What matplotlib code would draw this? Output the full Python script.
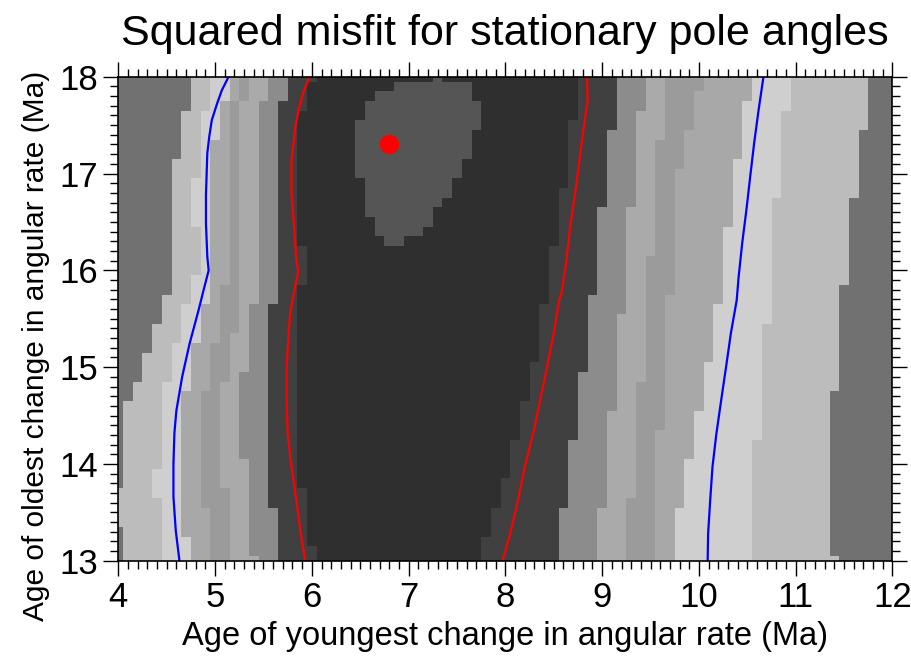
import numpy as np
import matplotlib
matplotlib.use("Agg")
import matplotlib.pyplot as plt
from matplotlib.colors import ListedColormap, BoundaryNorm
from matplotlib.ticker import MultipleLocator

plt.rcParams['font.family'] = ['Liberation Sans', 'DejaVu Sans']

# grid nodes of the misfit map (Ma)
x_nodes = np.round(np.arange(4.0, 12.01, 0.1), 2)
y_nodes = np.round(np.arange(13.0, 18.01, 0.1), 2)

# band colours, from lowest misfit (patch) outward
band_colors = ["#555555", "#2f2f2f", "#404040", "#8c8c8c", "#aaaaaa",
               "#9b9b9b", "#a8a8a8", "#cfcfcf", "#bcbcbc", "#717171"]

# band edges: (row y from which it applies, x edge)
# left side, outermost first
E_bc = [(13.0, 4.05), (13.35, 3.95), (13.75, 4.05), (14.65, 4.15), (14.85, 4.25),
        (15.15, 4.35), (15.45, 4.45), (15.75, 4.55), (17.15, 4.65), (17.65, 4.75)]
E_cf = [(13.0, 4.45), (13.65, 4.35), (13.95, 4.45), (14.85, 4.55), (15.25, 4.65),
        (15.65, 4.75), (15.95, 4.85), (16.45, 4.75), (16.95, 4.85), (17.65, 4.95)]
E_a8 = [(13.0, 4.75), (13.25, 4.65), (14.75, 4.75), (15.25, 4.85), (15.65, 4.95),
        (17.35, 5.05), (17.75, 5.15)]
E_9b = [(13.0, 4.95), (13.55, 4.85), (14.75, 4.95), (15.25, 5.05), (15.85, 5.15),
        (17.75, 5.25)]
E_aa = [(13.0, 5.15), (13.75, 5.05), (14.85, 5.15), (15.35, 5.25), (17.75, 5.35)]
E_8c = [(13.0, 5.45), (13.05, 5.35), (14.05, 5.25), (14.95, 5.35), (15.65, 5.45),
        (17.75, 5.55)]
E_40 = [(13.0, 5.65), (13.55, 5.55), (15.65, 5.65), (17.75, 5.75)]
E_2f = [(13.0, 6.05), (13.15, 5.95), (13.75, 5.85), (15.85, 5.95), (16.25, 5.85),
        (17.65, 5.95), (17.95, 6.05)]
# right side, innermost first
R_40 = [(13.0, 7.75), (13.25, 7.85), (13.55, 7.95), (13.85, 8.05), (14.25, 8.15),
        (14.65, 8.25), (15.05, 8.35), (15.65, 8.45), (16.25, 8.55), (16.85, 8.65),
        (17.55, 8.75)]
R_8c = [(13.0, 8.55), (13.55, 8.65), (14.25, 8.75), (14.95, 8.85), (15.75, 8.95),
        (16.65, 9.05), (17.45, 9.15)]
R_aa = [(13.0, 8.95), (13.55, 9.05), (14.55, 9.15), (15.55, 9.25), (16.65, 9.35),
        (17.65, 9.45)]
R_9b = [(13.0, 9.25), (13.65, 9.35), (14.85, 9.45), (16.15, 9.55), (17.35, 9.65)]
R_a8 = [(13.0, 9.55), (14.35, 9.65), (15.75, 9.75), (17.05, 9.85), (17.45, 9.95),
        (17.85, 10.05)]
R_cf = [(13.0, 9.75), (13.55, 9.85), (14.05, 9.95), (14.55, 10.05), (15.05, 10.15),
        (15.65, 10.25), (16.45, 10.35), (17.15, 10.45), (17.75, 10.55)]
R_bc = [(13.0, 10.55), (14.25, 10.65), (15.45, 10.75), (16.75, 10.85), (17.65, 10.95)]
R_71 = [(13.0, 11.45), (13.05, 11.35), (14.75, 11.45), (15.85, 11.55), (16.75, 11.65),
        (17.45, 11.75)]

# lowest-misfit patch: (row y, x left edge, x right edge)
patch_rows = [(18.0, 7.25, 7.35), (17.9, 6.85, 7.65), (17.8, 6.65, 7.65),
              (17.7, 6.55, 7.75), (17.6, 6.55, 7.75), (17.5, 6.45, 7.75),
              (17.4, 6.45, 7.65), (17.3, 6.45, 7.65), (17.2, 6.45, 7.65),
              (17.1, 6.45, 7.55), (17.0, 6.45, 7.55), (16.9, 6.55, 7.45),
              (16.8, 6.55, 7.45), (16.7, 6.55, 7.35), (16.6, 6.55, 7.25),
              (16.5, 6.65, 7.25), (16.4, 6.65, 7.15), (16.3, 6.75, 6.95)]

# contours
red_left_x = [5.977, 5.91, 5.864, 5.83, 5.79, 5.79, 5.817, 5.84, 5.86, 5.80, 5.775,
              5.76, 5.74, 5.74, 5.75, 5.79, 5.84, 5.886, 5.93]
red_left_y = [18.0, 17.83, 17.66, 17.48, 17.14, 16.79, 16.45, 16.10, 15.99, 15.69, 15.55,
              15.35, 15.0, 14.66, 14.31, 13.97, 13.62, 13.28, 13.0]
red_right_x = [8.843, 8.85, 8.81, 8.766, 8.72, 8.67, 8.63, 8.58, 8.555, 8.50, 8.43,
               8.36, 8.286, 8.20, 8.13, 8.05, 7.97]
red_right_y = [18.0, 17.76, 17.48, 17.14, 16.79, 16.45, 16.10, 15.76, 15.69, 15.35, 15.0,
               14.66, 14.31, 13.97, 13.62, 13.28, 13.0]
blue_left_x = [5.14, 5.07, 5.02, 4.966, 4.94, 4.92, 4.914, 4.906, 4.906, 4.92, 4.934,
               4.88, 4.83, 4.736, 4.66, 4.60, 4.58, 4.57, 4.57, 4.594, 4.632]
blue_left_y = [18.0, 17.86, 17.72, 17.55, 17.38, 17.21, 17.03, 16.78, 16.48, 16.14, 16.0,
               15.79, 15.59, 15.24, 14.90, 14.55, 14.32, 14.0, 13.66, 13.31, 13.0]
blue_right_x = [10.667, 10.617, 10.57, 10.53, 10.49, 10.447, 10.41, 10.39, 10.33, 10.28,
                10.23, 10.18, 10.14, 10.116, 10.095, 10.09]
blue_right_y = [18.0, 17.66, 17.31, 16.97, 16.62, 16.28, 15.93, 15.69, 15.35, 15.0,
                14.66, 14.31, 13.97, 13.62, 13.28, 13.0]

best_x, best_y = 6.8, 17.3


def edge_at(steps, y):
    xe = steps[0][1]
    for ys, x in steps[1:]:
        if y > ys:
            xe = x
    return xe


left_edges = [E_bc, E_cf, E_a8, E_9b, E_aa, E_8c, E_40, E_2f]
right_edges = [R_40, R_8c, R_aa, R_9b, R_a8, R_cf, R_bc, R_71]
patch = {round(r[0], 1): (r[1], r[2]) for r in patch_rows}

level = np.zeros((len(y_nodes), len(x_nodes)))
for j, y in enumerate(y_nodes):
    le = [edge_at(e, y) for e in left_edges]
    re = [edge_at(e, y) for e in right_edges]
    for i, x in enumerate(x_nodes):
        lev = sum(x < e for e in le) + sum(x > e for e in re)
        p = patch.get(round(y, 1))
        if p and p[0] < x < p[1]:
            lev = -1
        level[j, i] = lev

cmap = ListedColormap(band_colors)
norm = BoundaryNorm(np.arange(-1.5, 9.5, 1), cmap.N)

fig = plt.figure(figsize=(9.12, 6.63), dpi=100)
ax = fig.add_axes([0.1297, 0.1542, 0.8489, 0.7301])
ax.pcolormesh(x_nodes, y_nodes, level, cmap=cmap, norm=norm, shading='nearest')
ax.plot(red_left_x, red_left_y, color='red', lw=1.6)
ax.plot(red_right_x, red_right_y, color='red', lw=1.6)
ax.plot(blue_left_x, blue_left_y, color='blue', lw=1.6)
ax.plot(blue_right_x, blue_right_y, color='blue', lw=1.6)
ax.plot(best_x, best_y, 'o', color='red', ms=14, mec='none')

ax.set_xlim(4, 12)
ax.set_ylim(13, 18)
ax.xaxis.set_major_locator(MultipleLocator(1))
ax.xaxis.set_minor_locator(MultipleLocator(0.1))
ax.yaxis.set_major_locator(MultipleLocator(1))
ax.yaxis.set_minor_locator(MultipleLocator(0.1))
ax.tick_params(which='both', direction='out', top=True, right=True,
               labeltop=False, labelright=False, labelsize=25, width=1)
ax.tick_params(which='major', length=10.5, pad=4)
ax.tick_params(which='minor', length=5.5)
for s in ax.spines.values():
    s.set_linewidth(1.2)

fig.text(505 / 912, 1 - 645 / 663, "Age of youngest change in angular rate (Ma)",
         fontsize=23.5, ha='center', va='baseline')
fig.text(36 / 912, 1 - 346 / 663, "Age of oldest change in angular rate (Ma)",
         fontsize=21.5, ha='center', va='center', rotation=90)
fig.text(505 / 912, 1 - 45 / 663, "Squared misfit for stationary pole angles",
         fontsize=31, ha='center', va='baseline')

fig.savefig("out.png", dpi=100)
